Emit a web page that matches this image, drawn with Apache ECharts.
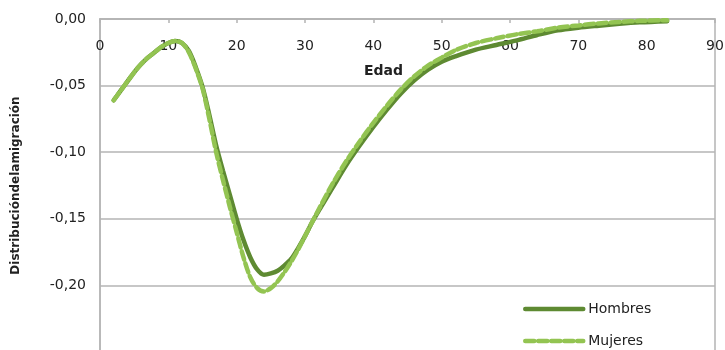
<!DOCTYPE html>
<html>
<head>
<meta charset="utf-8">
<script src="https://cdn.jsdelivr.net/npm/echarts@6/dist/echarts.min.js"></script>
<style>html,body{margin:0;padding:0;background:#fff;}#c{width:725px;height:350px;}</style>
</head>
<body>
<div id="c"></div>
<script>
const ages = [2,3,4,5,6,7,8,9,10,11,12,13,14,15,16,17,18,19,20,21,22,23,24,25,26,27,28,29,30,31,32,34,36,38,40,42,44,46,48,50,52,55,58,61,64,67,70,73,76,79,83];
const hombres = [-0.061,-0.054,-0.047,-0.040,-0.034,-0.029,-0.025,-0.021,-0.018,-0.0165,-0.018,-0.024,-0.036,-0.051,-0.072,-0.095,-0.114,-0.132,-0.150,-0.166,-0.179,-0.188,-0.192,-0.191,-0.189,-0.185,-0.180,-0.172,-0.163,-0.153,-0.144,-0.127,-0.110,-0.095,-0.081,-0.068,-0.056,-0.046,-0.038,-0.032,-0.028,-0.023,-0.0195,-0.016,-0.012,-0.0085,-0.0065,-0.005,-0.0036,-0.0025,-0.0016];
const mujeres = [-0.061,-0.054,-0.047,-0.040,-0.034,-0.029,-0.025,-0.021,-0.018,-0.0165,-0.018,-0.025,-0.037,-0.052,-0.075,-0.100,-0.121,-0.141,-0.160,-0.179,-0.194,-0.202,-0.2045,-0.202,-0.197,-0.190,-0.182,-0.173,-0.163,-0.153,-0.143,-0.124,-0.107,-0.092,-0.078,-0.065,-0.053,-0.043,-0.035,-0.029,-0.0235,-0.018,-0.0145,-0.0115,-0.0092,-0.0065,-0.0048,-0.0033,-0.0022,-0.0014,-0.0009];
const seriesNames = ['Hombres','Mujeres'];
const xTitle = 'Edad';
const yTitle = 'Distribucióndelamigración';

const fmt = v => (Math.abs(v) < 1e-9 ? '0,00' : v.toFixed(2).replace('.', ','));
const chart = echarts.init(document.getElementById('c'));
const FONT = 'DejaVu Sans';
const legendBase = {
  orient: 'vertical', left: 523, itemWidth: 58, itemHeight: 14,
  textStyle: { fontFamily: FONT, fontSize: 14, color: '#222' },
  itemStyle: { opacity: 0 }, lineStyle: { width: 4.5 }, padding: 0
};
chart.setOption({
  animation: false,
  title: { text: xTitle, left: 364, top: 64, padding: 0,
    textStyle: { fontFamily: FONT, fontSize: 14, fontWeight: 'bold', color: '#222' } },
  grid: { left: 100, right: 10, top: 19, height: 333, show: true, borderColor: '#b4b4b4', borderWidth: 1.5,
    outerBoundsMode: 'none', containLabel: false },
  legend: [
    Object.assign({}, legendBase, { top: 302, data: [seriesNames[0]] }),
    Object.assign({}, legendBase, { top: 334, data: [seriesNames[1]] })
  ],
  xAxis: {
    type: 'value', min: 0, max: 90, interval: 10, position: 'top',
    axisLine: { onZero: false, lineStyle: { color: '#b4b4b4', width: 1.5 } },
    axisTick: { show: true, inside: true, length: 4, lineStyle: { color: '#b4b4b4', width: 1.5 } },
    axisLabel: { inside: true, fontFamily: FONT, fontSize: 14, color: '#222', margin: 20 },
    splitLine: { show: false }
  },
  yAxis: {
    type: 'value', min: -0.25, max: 0, interval: 0.05,
    name: yTitle, nameLocation: 'middle', nameGap: 78, nameRotate: 90,
    nameTextStyle: { fontFamily: FONT, fontSize: 12, fontWeight: 'bold', color: '#222' },
    axisLine: { show: true, lineStyle: { color: '#b4b4b4', width: 1.5 } },
    axisTick: { show: false },
    axisLabel: { fontFamily: FONT, fontSize: 14, color: '#222', margin: 14, formatter: fmt, showMinLabel: false },
    splitLine: { show: true, lineStyle: { color: '#b4b4b4', width: 1.5 } }
  },
  series: [
    { name: seriesNames[0], type: 'line', smooth: 0.3, showSymbol: false, symbol: 'none',
      data: ages.map((a, i) => [a, hombres[i]]),
      lineStyle: { color: '#5e8a32', width: 4.5, cap: 'round' }, itemStyle: { color: '#5e8a32' } },
    { name: seriesNames[1], type: 'line', smooth: 0.3, showSymbol: false, symbol: 'none',
      data: ages.map((a, i) => [a, mujeres[i]]),
      lineStyle: { color: '#93c452', width: 4.5, type: [9, 4], cap: 'round' }, itemStyle: { color: '#93c452' } }
  ]
});
</script>
</body>
</html>
